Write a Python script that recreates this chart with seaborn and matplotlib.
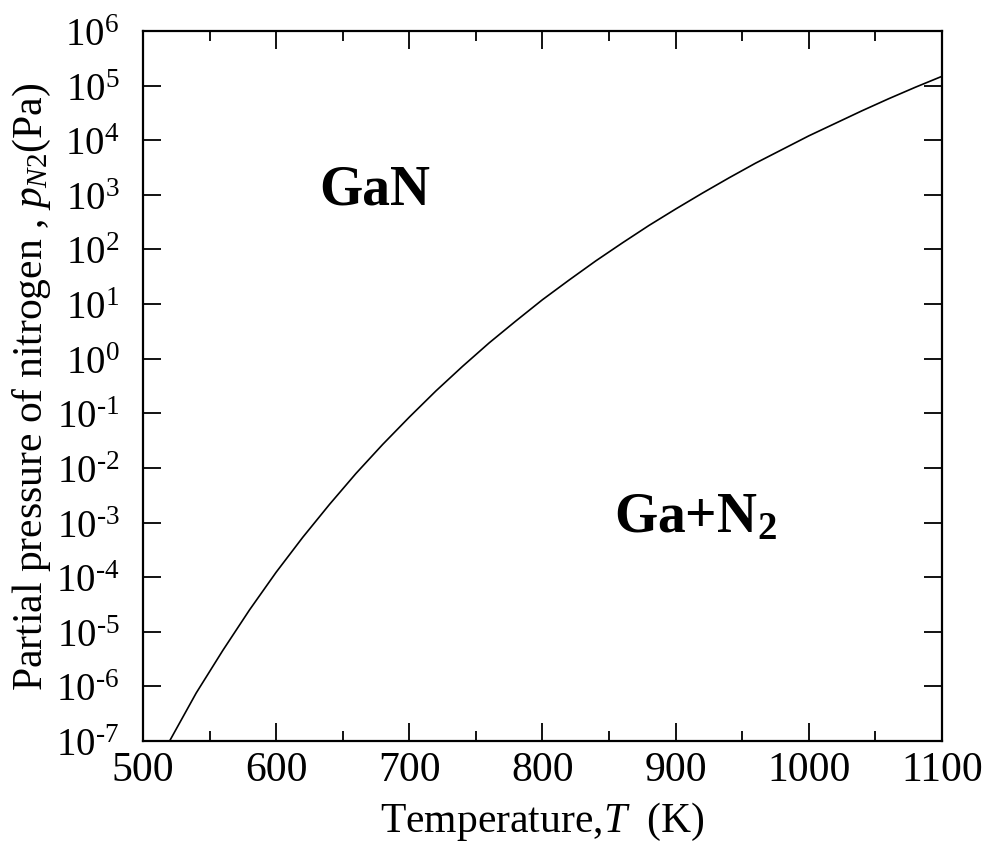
import matplotlib
matplotlib.use("Agg")
import matplotlib.pyplot as plt
import matplotlib.ticker as mticker
import pandas as pd
import seaborn as sns

# Values: temperature (K) and log10 of N2 partial pressure (Pa)
temperature = [520, 540, 560, 580, 600, 620, 640, 660, 680, 700, 720, 740, 760, 780,
               800, 820, 840, 860, 880, 900, 920, 940, 960, 980, 1000, 1020, 1040,
               1060, 1080, 1100]
log_pressure = [-7.00, -6.12, -5.34, -4.60, -3.91, -3.27, -2.67, -2.10, -1.57, -1.07,
                -0.59, -0.14, 0.29, 0.69, 1.08, 1.44, 1.79, 2.12, 2.44, 2.74, 3.03,
                3.31, 3.58, 3.83, 4.08, 4.31, 4.54, 4.76, 4.97, 5.17]
x_ticks = [500, 600, 700, 800, 900, 1000, 1100]
y_exponents = [-7, -6, -5, -4, -3, -2, -1, 0, 1, 2, 3, 4, 5, 6]
region_labels = ["GaN", "Ga+N$_\\mathregular{2}$"]
region_x = [674, 915]
region_logp = [3.1, -2.9]

sns.set_theme(style="ticks")
plt.rcParams["font.family"] = ["Liberation Serif", "DejaVu Serif"]
plt.rcParams["mathtext.fontset"] = "custom"
plt.rcParams["mathtext.rm"] = "Liberation Serif"
plt.rcParams["mathtext.it"] = "Liberation Serif:italic"
plt.rcParams["mathtext.bf"] = "Liberation Serif:bold"
plt.rcParams["text.color"] = "black"
plt.rcParams["axes.labelcolor"] = "black"
plt.rcParams["xtick.color"] = "black"
plt.rcParams["ytick.color"] = "black"

df = pd.DataFrame({"T": temperature, "p": [10.0 ** v for v in log_pressure]})

fig = plt.figure(figsize=(9.9, 8.53), dpi=100)
ax = fig.add_axes([0.1444, 0.1301, 0.8071, 0.8324])

sns.lineplot(data=df, x="T", y="p", ax=ax, color="black", linewidth=1.2)

ax.set_yscale("log")
ax.set_xlim(500, 1100)
ax.set_ylim(1e-7, 1e6)

ax.xaxis.set_major_locator(mticker.FixedLocator(x_ticks))
ax.xaxis.set_minor_locator(mticker.MultipleLocator(50))
ax.yaxis.set_major_locator(mticker.FixedLocator([10.0 ** e for e in y_exponents]))
ax.yaxis.set_minor_locator(mticker.NullLocator())
ax.set_yticklabels([r"10$^{\text{%d}}$" % e for e in y_exponents])
ax.set_xticklabels([str(t) for t in x_ticks])

for s in ax.spines.values():
    s.set_linewidth(1.6)
    s.set_color("black")
ax.tick_params(which="major", direction="in", length=13, width=1.3, top=True, right=True)
ax.tick_params(which="minor", direction="in", length=7, width=1.3, top=True, right=True)
ax.tick_params(axis="x", which="major", labelsize=30, pad=7)
ax.tick_params(axis="y", which="major", labelsize=28, pad=17)

ax.set_xlabel(r"Temperature,$\mathit{T}$  (K)", fontsize=30, labelpad=8)
ax.set_ylabel(r"Partial pressure of nitrogen , $\mathit{p}_{\mathit{N2}}$(Pa)", fontsize=30, labelpad=2)

for lab, x, lp in zip(region_labels, region_x, region_logp):
    ax.text(x, 10.0 ** lp, lab, fontsize=40, fontweight="bold", ha="center", va="center")

fig.savefig("out.png", dpi=100)
